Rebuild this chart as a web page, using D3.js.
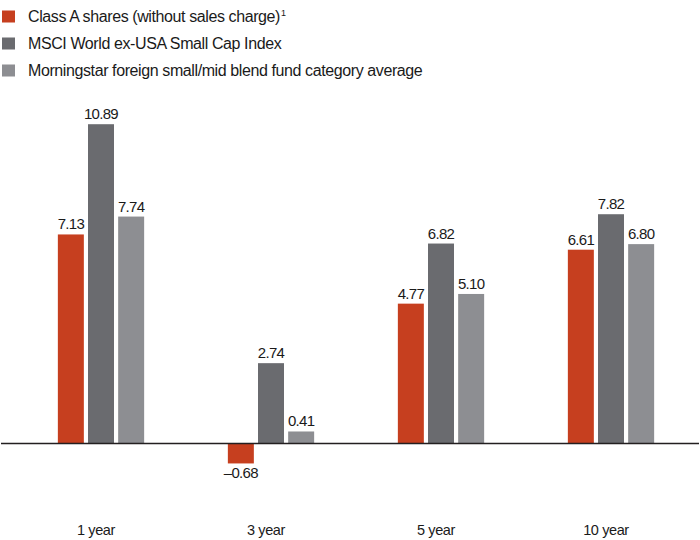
<!DOCTYPE html>
<html>
<head>
<meta charset="utf-8">
<script src="https://cdn.jsdelivr.net/npm/d3@7"></script>
<style>
  html, body { margin: 0; padding: 0; background: #fff; }
  svg { display: block; }
  text { font-family: "Liberation Sans Narrow", "Arial Narrow", "Liberation Sans", Arial, sans-serif; fill: #1a1a1a; }
</style>
</head>
<body>
<svg id="chart" width="700" height="540"></svg>
<script>
const categories = ["1 year", "3 year", "5 year", "10 year"];
const seriesNames = [
  "Class A shares (without sales charge)",
  "MSCI World ex-USA Small Cap Index",
  "Morningstar foreign small/mid blend fund category average"
];
const seriesColors = ["#c63f1f", "#6a6b6f", "#8d8e92"];
const classA = [7.13, -0.68, 4.77, 6.61];
const msci = [10.89, 2.74, 6.82, 7.82];
const morningstar = [7.74, 0.41, 5.10, 6.80];
const valueLabels = [
  ["7.13", "\u20130.68", "4.77", "6.61"],
  ["10.89", "2.74", "6.82", "7.82"],
  ["7.74", "0.41", "5.10", "6.80"]
];

const seriesValues = [classA, msci, morningstar];
const svg = d3.select("#chart");

const zeroY = 443.5, perUnit = 29.32;
const y = d3.scaleLinear().domain([-2, 12]).range([zeroY + 2 * perUnit, zeroY - 12 * perUnit]);
const x0 = d3.scaleBand().domain(categories).range([16, 696]).paddingInner(0).paddingOuter(0);
const half = 43.15;
const x1 = d3.scaleBand().domain(d3.range(3)).range([x0.bandwidth() / 2 - half, x0.bandwidth() / 2 + half]).paddingInner(0.138).paddingOuter(0);

const data = [];
categories.forEach((c, ci) => {
  seriesValues.forEach((vals, si) => {
    data.push({ cat: c, ci, si, v: vals[ci], label: valueLabels[si][ci] });
  });
});

const bars = svg.append("g");
bars.selectAll("rect").data(data).join("rect")
  .attr("x", d => x0(d.cat) + x1(d.si))
  .attr("width", x1.bandwidth())
  .attr("y", d => y(Math.max(0, d.v)))
  .attr("height", d => Math.abs(y(d.v) - y(0)))
  .attr("fill", d => seriesColors[d.si]);

bars.selectAll("text").data(data).join("text")
  .attr("x", d => x0(d.cat) + x1(d.si) + x1.bandwidth() / 2)
  .attr("y", d => d.v >= 0 ? y(d.v) - 5 : y(d.v) + 15)
  .attr("text-anchor", "middle")
  .attr("font-size", 15)
  .attr("letter-spacing", -0.7)
  .text(d => d.label);

// zero baseline
svg.append("line")
  .attr("x1", 1).attr("x2", 699)
  .attr("y1", y(0)).attr("y2", y(0))
  .attr("stroke", "#231f20").attr("stroke-width", 1.3);

// category labels
svg.append("g").selectAll("text").data(categories).join("text")
  .attr("x", d => x0(d) + x0.bandwidth() / 2 - 5)
  .attr("y", 535)
  .attr("text-anchor", "middle")
  .attr("font-size", 14.5)
  .attr("letter-spacing", -0.4)
  .text(d => d);

// legend
const legend = svg.append("g");
seriesNames.forEach((name, i) => {
  const g = legend.append("g").attr("transform", `translate(0, ${i * 27})`);
  g.append("rect").attr("x", 2).attr("y", 10.5).attr("width", 13).attr("height", 12).attr("fill", seriesColors[i]);
  const t = g.append("text").attr("x", 28).attr("y", 22).attr("font-size", 16).attr("letter-spacing", -0.4).text(name);
  if (i === 0) {
    t.append("tspan").attr("font-size", 9).attr("dy", -6).attr("dx", 1).text("1");
  }
});
</script>
</body>
</html>
